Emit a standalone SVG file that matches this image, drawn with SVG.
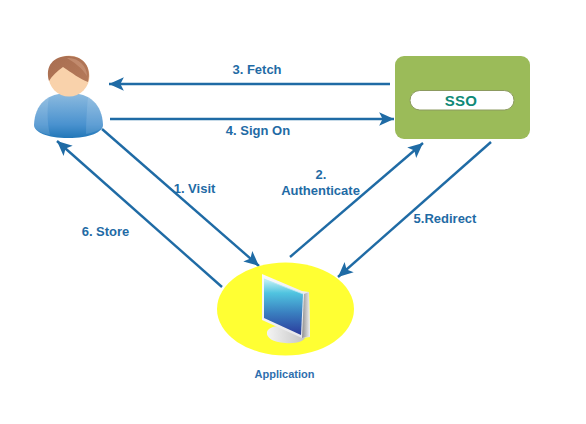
<svg xmlns="http://www.w3.org/2000/svg" width="586" height="424" viewBox="0 0 586 424">
<style>
text{font-family:"Liberation Sans",Arial,sans-serif;font-weight:bold}
.l{font-size:13px;fill:#1f6ba5;text-anchor:middle}
.c{stroke:#1f6ba5;stroke-width:2.4;fill:none;marker-end:url(#a)}
</style>
<defs>
<marker id="a" markerUnits="userSpaceOnUse" markerWidth="16" markerHeight="14" refX="13" refY="6" orient="auto" viewBox="0 0 14 12"><path d="M0 0L13 6L0 12L3 6Z" fill="#1f6ba5"/></marker>
<linearGradient id="body" x1="0" y1="0" x2="0" y2="1"><stop offset="0" stop-color="#8dbbdf"/><stop offset=".7" stop-color="#4a92cf"/><stop offset="1" stop-color="#2277b8"/></linearGradient>
<linearGradient id="hair" x1="0" y1="0" x2="1" y2="1"><stop offset="0" stop-color="#a86d50"/><stop offset="1" stop-color="#b57a5a"/></linearGradient>
<linearGradient id="screen" x1="0" y1="0" x2="0" y2="1"><stop offset="0" stop-color="#c8f2f6"/><stop offset=".25" stop-color="#50c4e0"/><stop offset=".6" stop-color="#3a80c0"/><stop offset="1" stop-color="#2a3a9c"/></linearGradient>
<linearGradient id="bez" x1="0" y1="0" x2="1" y2="1"><stop offset="0" stop-color="#fafafc"/><stop offset="1" stop-color="#e4e4e8"/></linearGradient>
<linearGradient id="side" x1="0" y1="0" x2="1" y2="0"><stop offset="0" stop-color="#8f8f8f"/><stop offset="1" stop-color="#f0f0f0"/></linearGradient>
<linearGradient id="foot" x1="0" y1="0" x2="1" y2="0"><stop offset="0" stop-color="#f4f4f4"/><stop offset="1" stop-color="#c4c4c4"/></linearGradient>
</defs>
<rect width="586" height="424" fill="#fff"/>
<g id="connectors">
<path class="c" d="M390 84H109"/>
<path class="c" d="M110 119H394"/>
<path class="c" d="M102 129L259 266"/>
<path class="c" d="M290 257L423 143"/>
<path class="c" d="M491 142L338 277"/>
<path class="c" d="M222 287L57 141"/>
<text class="l" x="257" y="74">3. Fetch</text>
<text class="l" x="258" y="135">4. Sign On</text>
<text class="l" x="194.500" y="193">1. Visit</text>
<text class="l" x="321" y="179">2.</text>
<text class="l" x="320.500" y="195">Authenticate</text>
<text class="l" x="445" y="223">5.Redirect</text>
<text class="l" x="105.500" y="236">6. Store</text>
</g>
<g id="user">
<path d="M34 125C35 104 47 93 69 93C90 93 102 104 103 125C103 132 90 138 68 138C47 138 34 132 34 125Z" fill="url(#body)"/>
<path d="M34 125C35 110 40 101 49 97C47 108 47 122 50 135C40 133 34 129 34 125Z" fill="#fff" opacity=".12"/>
<path d="M103 125C102 110 97 101 88 97C87 108 86 122 86 134C96 132 103 129 103 125Z" fill="#fff" opacity=".12"/>
<circle cx="69" cy="76" r="20.500" fill="#f9d2ab"/>
<path d="M49 81C45 66 53 56 69 56C84 56 92 68 88 82C80 79 72 73 63 67C57 71 52 76 49 81Z" fill="url(#hair)"/>
<path d="M67 58C78 57 87 66 87 76C82 68 75 63 67 58Z" fill="#c99478" opacity=".7"/>
</g>
<g id="sso">
<rect x="395" y="56" width="135" height="83" rx="9" fill="#9bbb59"/>
<rect x="410" y="90.500" width="104" height="19.500" rx="9.750" fill="#fff" stroke="#8c9a60"/>
<text x="461" y="106" font-size="15" fill="#0f8a77" text-anchor="middle" letter-spacing=".3">SSO</text>
</g>
<g id="application">
<ellipse cx="285.500" cy="309" rx="68.500" ry="46.500" fill="#ffff33"/>
<path d="M267 332C270 322 296 326 305 337C305 341 296 344 285 343C273 342 266 338 267 332Z" fill="url(#foot)"/>
<path d="M262 274L302 291L309 292L310 337L302 338L262 320Z" fill="url(#bez)"/>
<path d="M304 294L309 292L310 336L302 338Z" fill="url(#side)"/>
<path d="M264 279L303 294L301 335L264 318Z" fill="url(#screen)"/>
<path d="M264 279L303 294" stroke="#b0e8f4" fill="none" stroke-width=".8"/>
</g>
<text id="application-label" x="284.500" y="378" font-size="11" fill="#2f6fae" text-anchor="middle">Application</text>
</svg>
